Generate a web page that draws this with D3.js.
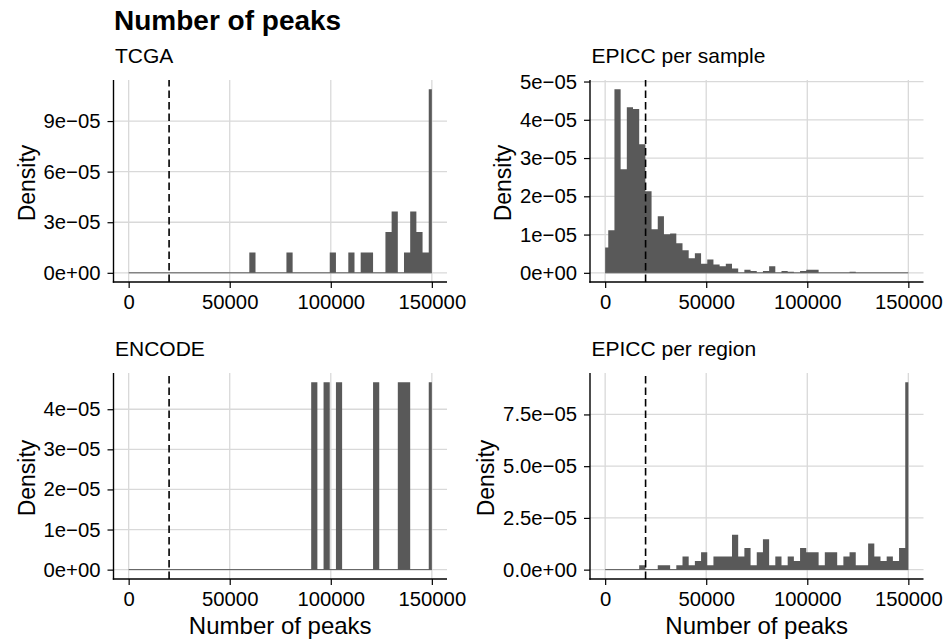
<!DOCTYPE html>
<html>
<head>
<meta charset="utf-8">
<script src="https://cdn.jsdelivr.net/npm/d3@7"></script>
<style>
  body { margin: 0; background: #fff; }
  text { font-family: "Liberation Sans", Arial, Helvetica, sans-serif; }
</style>
</head>
<body>
<svg id="chart" width="947" height="642"></svg>
<script>
// ---------------- data ----------------
const chartTitle = "Number of peaks";
const xAxisTitle = "Number of peaks";
const yAxisTitle = "Density";
const binCount = 50;
const xMaxPeaks = 150000;
const cutoffPeaks = 20000;
const xTicks = [0, 50000, 100000, 150000];
const xTickLabels = ["0", "50000", "100000", "150000"];

const panelNames = ["TCGA", "EPICC per sample", "ENCODE", "EPICC per region"];

const tcgaDensity = [
  0, 0, 0, 0, 0, 0, 0, 0, 0, 0,
  0, 0, 0, 0, 0, 0, 0, 0, 0, 0,
  1.21e-5, 0, 0, 0, 0, 0, 1.21e-5, 0, 0, 0,
  0, 0, 0, 1.21e-5, 0, 0, 1.21e-5, 0, 1.21e-5, 1.21e-5,
  0, 0, 2.42e-5, 3.63e-5, 0, 1.21e-5, 3.63e-5, 2.42e-5, 1.21e-5, 1.089e-4
];
const epiccSampleDensity = [
  6.6e-6, 1.11e-5, 4.80e-5, 2.71e-5, 4.33e-5, 4.28e-5, 3.36e-5, 2.13e-5, 1.14e-5, 1.48e-5,
  1.01e-5, 1.03e-5, 7.7e-6, 5.9e-6, 3.8e-6, 5.1e-6, 2.4e-6, 3.5e-6, 2.2e-6, 1.7e-6,
  2.4e-6, 1.1e-6, 0, 8e-7, 5e-7, 0, 5e-7, 1.7e-6, 0, 5e-7,
  3e-7, 0, 5e-7, 8e-7, 8e-7, 0, 0, 0, 0, 0,
  3e-7, 0, 0, 0, 0, 0, 0, 0, 0, 0
];
const encodeDensity = [
  0, 0, 0, 0, 0, 0, 0, 0, 0, 0,
  0, 0, 0, 0, 0, 0, 0, 0, 0, 0,
  0, 0, 0, 0, 0, 0, 0, 0, 0, 0,
  4.67e-5, 0, 4.67e-5, 0, 4.67e-5, 0, 0, 0, 0, 0,
  4.67e-5, 0, 0, 0, 4.67e-5, 4.67e-5, 0, 0, 0, 4.67e-5
];
const epiccRegionDensity = [
  0, 0, 0, 0, 0, 0, 2.1e-6, 0, 0, 2.1e-6,
  2.1e-6, 0, 2.1e-6, 6.3e-6, 2.1e-6, 4.2e-6, 8.4e-6, 2.1e-6, 6.3e-6, 6.3e-6,
  6.3e-6, 1.68e-5, 6.3e-6, 1.05e-5, 2.1e-6, 8.4e-6, 1.47e-5, 2.1e-6, 6.3e-6, 2.1e-6,
  6.3e-6, 4.2e-6, 1.05e-5, 8.4e-6, 8.4e-6, 2.1e-6, 8.4e-6, 8.4e-6, 2.1e-6, 6.3e-6,
  8.4e-6, 2.1e-6, 2.1e-6, 1.26e-5, 6.3e-6, 4.2e-6, 6.3e-6, 4.2e-6, 1.05e-5, 9.05e-5
];

const yTicksTCGA = [0, 3e-5, 6e-5, 9e-5];
const yLabelsTCGA = ["0e+00", "3e\u221205", "6e\u221205", "9e\u221205"];
const yTicksSample = [0, 1e-5, 2e-5, 3e-5, 4e-5, 5e-5];
const yLabelsSample = ["0e+00", "1e\u221205", "2e\u221205", "3e\u221205", "4e\u221205", "5e\u221205"];
const yTicksEncode = [0, 1e-5, 2e-5, 3e-5, 4e-5];
const yLabelsEncode = ["0e+00", "1e\u221205", "2e\u221205", "3e\u221205", "4e\u221205"];
const yTicksRegion = [0, 2.5e-5, 5e-5, 7.5e-5];
const yLabelsRegion = ["0.0e+00", "2.5e\u221205", "5.0e\u221205", "7.5e\u221205"];

// ---------------- layout ----------------
const cols = [[113.5, 447], [590, 923.5]];
const rows = [[80, 282], [373, 579]];
const panels = [
  { name: panelNames[0], dens: tcgaDensity, yt: yTicksTCGA, yl: yLabelsTCGA, c: 0, r: 0 },
  { name: panelNames[1], dens: epiccSampleDensity, yt: yTicksSample, yl: yLabelsSample, c: 1, r: 0 },
  { name: panelNames[2], dens: encodeDensity, yt: yTicksEncode, yl: yLabelsEncode, c: 0, r: 1 },
  { name: panelNames[3], dens: epiccRegionDensity, yt: yTicksRegion, yl: yLabelsRegion, c: 1, r: 1 }
];

const barColor = "#595959";
const gridColor = "#d9d9d9";
const tickFont = 20.3;
const svg = d3.select("#chart");

svg.append("text")
  .attr("x", 114).attr("y", 29.5)
  .attr("font-size", 28).attr("font-weight", "bold").attr("fill", "#000")
  .text(chartTitle);

const binWidth = xMaxPeaks / (binCount - 1);

panels.forEach(p => {
  const [x0, x1] = cols[p.c];
  const [y0, y1] = rows[p.r];
  const pad = 0.05 * xMaxPeaks;
  const x = d3.scaleLinear().domain([-pad, xMaxPeaks + pad]).range([x0, x1]);
  const maxD = d3.max(p.dens);
  const y = d3.scaleLinear().domain([-0.05 * maxD, 1.05 * maxD]).range([y1, y0]);

  const g = svg.append("g");

  // grid
  g.selectAll(".gx").data(xTicks).join("line")
    .attr("x1", d => x(d)).attr("x2", d => x(d))
    .attr("y1", y0).attr("y2", y1)
    .attr("stroke", gridColor).attr("stroke-width", 1.3);
  g.selectAll(".gy").data(p.yt).join("line")
    .attr("x1", x0).attr("x2", x1)
    .attr("y1", d => y(d)).attr("y2", d => y(d))
    .attr("stroke", gridColor).attr("stroke-width", 1.3);

  // histogram bins: left edge of each bin, clipped to [0, xMaxPeaks]
  const steps = p.dens.map((d, i) => ({ e: Math.max(0, i * binWidth - binWidth / 2), d }));
  steps.push({ e: xMaxPeaks, d: p.dens[p.dens.length - 1] });

  // zero-height bins appear as a flat baseline
  g.append("line")
    .attr("x1", x(0)).attr("x2", x(xMaxPeaks))
    .attr("y1", y(0)).attr("y2", y(0))
    .attr("stroke", barColor).attr("stroke-width", 1);

  const area = d3.area()
    .x(d => x(d.e)).y0(y(0)).y1(d => y(d.d))
    .curve(d3.curveStepAfter);
  g.append("path").datum(steps)
    .attr("d", area)
    .attr("fill", barColor);

  // cutoff line
  g.append("line")
    .attr("x1", x(cutoffPeaks)).attr("x2", x(cutoffPeaks))
    .attr("y1", y1).attr("y2", y0)
    .attr("stroke", "#000").attr("stroke-width", 1.6)
    .attr("stroke-dasharray", "7.5,4");

  // axes
  const ax = g.append("g").attr("transform", `translate(0,${y1})`)
    .call(d3.axisBottom(x).tickValues(xTicks).tickFormat((d, i) => xTickLabels[i])
      .tickSize(6).tickSizeOuter(0).tickPadding(7));
  const ay = g.append("g").attr("transform", `translate(${x0},0)`)
    .call(d3.axisLeft(y).tickValues(p.yt).tickFormat((d, i) => p.yl[i])
      .tickSize(6).tickSizeOuter(0).tickPadding(7));
  [ax, ay].forEach(a => {
    a.select(".domain").remove();
    a.selectAll(".tick line").attr("stroke", "#000").attr("stroke-width", 1.2);
    a.selectAll(".tick text").attr("font-size", tickFont).attr("fill", "#000")
      .attr("font-family", "Liberation Sans, Arial, sans-serif");
  });
  g.append("line").attr("x1", x0).attr("x2", x0).attr("y1", y0).attr("y2", y1 + 0.7)
    .attr("stroke", "#000").attr("stroke-width", 1.4);
  g.append("line").attr("x1", x0 - 0.7).attr("x2", x1).attr("y1", y1).attr("y2", y1)
    .attr("stroke", "#000").attr("stroke-width", 1.4);

  // strip title
  g.append("text").attr("x", x0 + 1.5).attr("y", y0 - 17.3)
    .attr("font-size", 21).attr("fill", "#000").text(p.name);

  // y title
  let minX = Infinity;
  ay.selectAll(".tick text").each(function () {
    const bb = this.getBBox();
    minX = Math.min(minX, x0 + bb.x);
  });
  const cy = (y0 + y1) / 2 + 2;
  g.append("text")
    .attr("transform", `translate(${minX - 9},${cy}) rotate(-90)`)
    .attr("text-anchor", "middle").attr("font-size", 23).attr("fill", "#000")
    .text(yAxisTitle);

  if (p.r === 1) {
    g.append("text").attr("x", (x0 + x1) / 2).attr("y", 634)
      .attr("text-anchor", "middle").attr("font-size", 24).attr("fill", "#000")
      .text(xAxisTitle);
  }
});
</script>
</body>
</html>
